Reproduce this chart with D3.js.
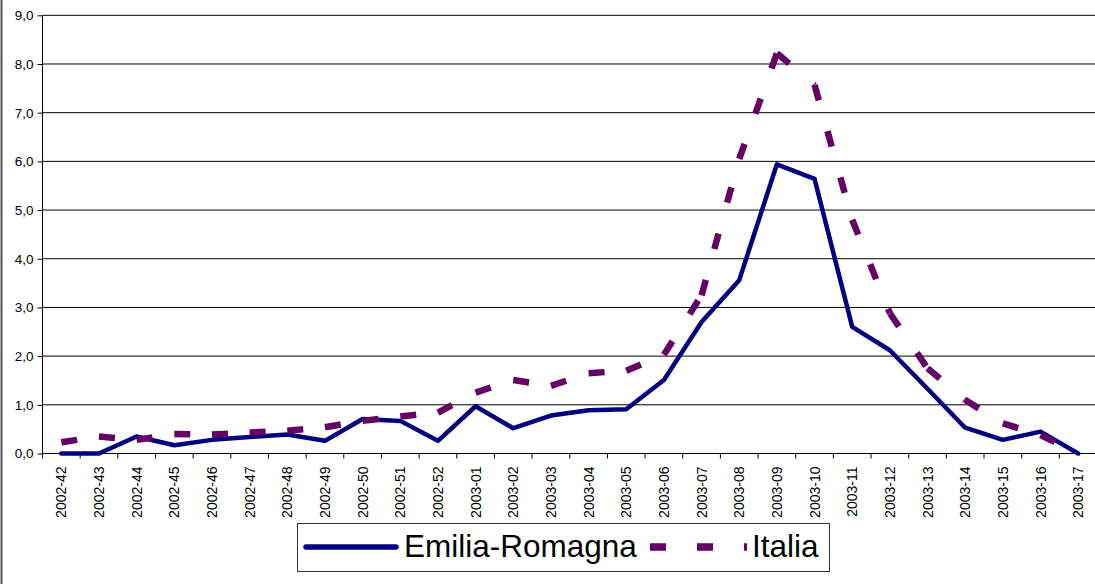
<!DOCTYPE html>
<html>
<head>
<meta charset="utf-8">
<script src="https://cdn.jsdelivr.net/npm/d3@7"></script>
<style>
  html, body { margin: 0; padding: 0; background: #fff; }
  svg { display: block; font-family: "Liberation Sans", Arial, sans-serif; }
</style>
</head>
<body>
<svg id="chart" width="1095" height="584"></svg>
<script>
const weeks = ["2002-42","2002-43","2002-44","2002-45","2002-46","2002-47","2002-48","2002-49","2002-50","2002-51","2002-52",
  "2003-01","2003-02","2003-03","2003-04","2003-05","2003-06","2003-07","2003-08","2003-09","2003-10",
  "2003-11","2003-12","2003-13","2003-14","2003-15","2003-16","2003-17"];
const emiliaRomagna = [0.0,0.0,0.35,0.17,0.28,0.34,0.39,0.26,0.71,0.67,0.26,0.97,0.52,0.78,0.89,0.91,1.51,2.70,3.56,5.94,5.64,2.60,2.12,1.33,0.53,0.28,0.45,0.0];
const italia = [0.23,0.35,0.28,0.40,0.39,0.43,0.47,0.54,0.67,0.76,0.84,1.25,1.51,1.39,1.65,1.70,2.03,3.25,6.05,8.22,7.57,4.80,2.88,1.75,1.10,0.62,0.38,0.0];
const yTicks = [0,1,2,3,4,5,6,7,8,9];
const seriesNames = ["Emilia-Romagna","Italia"];
const colors = {"Emilia-Romagna":"#000080","Italia":"#660066"};

const svg = d3.select("#chart");
const pLeft = 42.5, pRight = 1097, pTop = 15.3, pBottom = 453.5;

const x = d3.scaleBand().domain(weeks).range([pLeft, pRight]).padding(0);
const y = d3.scaleLinear().domain([0, 9]).range([pBottom, pTop]);
const cx = d => x(d) + x.bandwidth() / 2;
const fmt = v => d3.format(".1f")(v).replace(".", ",");

// outer frame edge on the left
svg.append("line").attr("x1", 1.5).attr("x2", 1.5).attr("y1", 0).attr("y2", 584)
  .attr("stroke", "#555").attr("stroke-width", 2);

// gridlines
svg.append("g").selectAll("line").data(yTicks).join("line")
  .attr("x1", pLeft).attr("x2", pRight)
  .attr("y1", d => y(d)).attr("y2", d => y(d))
  .attr("stroke", "#000").attr("stroke-width", 1);

// y axis
const yAxis = d3.axisLeft(y).tickValues(yTicks).tickFormat(fmt).tickSize(5).tickPadding(4);
const gy = svg.append("g").attr("transform", `translate(${pLeft},0)`).call(yAxis);
gy.select(".domain").attr("stroke", "#000").attr("d", `M-0,${pTop}V${pBottom}`);
gy.selectAll(".tick line").attr("stroke", "#000");
gy.selectAll(".tick text").attr("font-size", 13.5).attr("fill", "#000")
  .attr("font-family", "Liberation Sans, Arial, sans-serif");

// x axis
const xAxis = d3.axisBottom(x).tickSize(0).tickPadding(0);
const gx = svg.append("g").attr("transform", `translate(0,${pBottom})`).call(xAxis);
gx.select(".domain").attr("stroke", "#000").attr("d", `M${pLeft},0H${pRight}`);
gx.selectAll(".tick text")
  .attr("font-size", 14).attr("fill", "#000")
  .attr("font-family", "Liberation Sans, Arial, sans-serif")
  .attr("text-anchor", "end")
  .attr("transform", "translate(5,13) rotate(-90)")
  .attr("dy", 0).attr("y", 0).attr("x", 0);
// x tick marks at band boundaries
gx.append("g").selectAll("line").data(weeks).join("line")
  .attr("x1", d => x(d)).attr("x2", d => x(d))
  .attr("y1", 0).attr("y2", 5).attr("stroke", "#000");

// Emilia-Romagna solid line
const line = d3.line().x((d, i) => cx(weeks[i])).y(d => y(d));
svg.append("path").datum(emiliaRomagna)
  .attr("d", line)
  .attr("fill", "none").attr("stroke", colors["Emilia-Romagna"])
  .attr("stroke-width", 4.5).attr("stroke-linejoin", "round").attr("stroke-linecap", "round");

// Italia dashed line (pattern restarts on every segment)
const segs = d3.pairs(italia.map((v, i) => ({v, w: weeks[i]})));
const segLine = d3.line().x(d => cx(d.w)).y(d => y(d.v));
svg.append("g").selectAll("path").data(segs).join("path")
  .attr("d", d => segLine(d))
  .attr("fill", "none").attr("stroke", colors["Italia"])
  .attr("stroke-width", 6.5).attr("stroke-dasharray", "16,32").attr("stroke-linecap", "butt");

// legend
const lg = svg.append("g");
lg.append("rect").attr("x", 297.5).attr("y", 523.5).attr("width", 532).attr("height", 48)
  .attr("fill", "#fff").attr("stroke", "#333").attr("stroke-width", 1);
lg.append("line").attr("x1", 306).attr("x2", 396).attr("y1", 547).attr("y2", 547)
  .attr("stroke", colors["Emilia-Romagna"]).attr("stroke-width", 5.5).attr("stroke-linecap", "round");
lg.append("text").attr("x", 404).attr("y", 557).attr("font-size", 31.5).attr("fill", "#000")
  .text(seriesNames[0]);
lg.append("line").attr("x1", 650).attr("x2", 747).attr("y1", 547).attr("y2", 547)
  .attr("stroke", colors["Italia"]).attr("stroke-width", 7.5).attr("stroke-dasharray", "16,31");
lg.append("text").attr("x", 752).attr("y", 557).attr("font-size", 31.5).attr("fill", "#000")
  .text(seriesNames[1]);
</script>
</body>
</html>
